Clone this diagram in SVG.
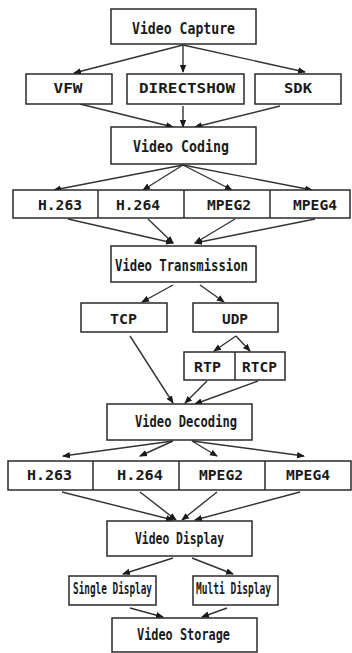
<svg xmlns="http://www.w3.org/2000/svg" width="352" height="653" viewBox="0 0 352 653">
<style>
.b{fill:#fff;stroke:#2a2a2a;stroke-width:1.5}
.d{stroke:#2a2a2a;stroke-width:1.5}
.t{font-family:"DejaVu Sans Mono","Liberation Mono",monospace;font-weight:bold;fill:#1a1a1a;text-anchor:middle}
.s{font-size:15px}
.m{font-size:14.5px}
.c line{stroke:#333;stroke-width:1.4;fill:none;marker-end:url(#a)}
</style>
<defs>
<marker id="a" markerUnits="userSpaceOnUse" markerWidth="8" markerHeight="8" viewBox="0 0 8 8" refX="7" refY="4" orient="auto">
<path d="M0,0.8 L8,4 L0,7.2 Z" fill="#1a1a1a"/>
</marker>
</defs>
<rect width="352" height="653" fill="#fff"/>
<g id="connectors" class="c">
<line x1="183" y1="45" x2="74" y2="73"/>
<line x1="183" y1="45" x2="183" y2="72"/>
<line x1="183" y1="45" x2="305" y2="72"/>
<line x1="80" y1="104" x2="173" y2="127"/>
<line x1="183" y1="106" x2="183" y2="127"/>
<line x1="280" y1="106" x2="195" y2="127"/>
<line x1="183" y1="165" x2="54" y2="190"/>
<line x1="183" y1="165" x2="143" y2="190"/>
<line x1="183" y1="165" x2="232" y2="190"/>
<line x1="183" y1="165" x2="312" y2="190"/>
<line x1="68" y1="219" x2="173" y2="243"/>
<line x1="148" y1="219" x2="173" y2="243"/>
<line x1="235" y1="219" x2="195" y2="243"/>
<line x1="315" y1="219" x2="195" y2="243"/>
<line x1="173" y1="285" x2="142" y2="302"/>
<line x1="200" y1="285" x2="224" y2="302"/>
<line x1="236" y1="336" x2="214" y2="351"/>
<line x1="236" y1="336" x2="250" y2="351"/>
<line x1="130" y1="336" x2="173" y2="403"/>
<line x1="207" y1="381" x2="185" y2="403"/>
<line x1="258" y1="381" x2="195" y2="404"/>
<line x1="173" y1="441" x2="63" y2="456"/>
<line x1="173" y1="441" x2="140" y2="456"/>
<line x1="192" y1="441" x2="217" y2="456"/>
<line x1="192" y1="441" x2="304" y2="456"/>
<line x1="62" y1="492" x2="173" y2="520"/>
<line x1="140" y1="492" x2="176" y2="520"/>
<line x1="217" y1="492" x2="182" y2="520"/>
<line x1="300" y1="492" x2="195" y2="520"/>
<line x1="173" y1="558" x2="123" y2="574"/>
<line x1="192" y1="558" x2="233" y2="574"/>
<line x1="130" y1="608" x2="163" y2="617"/>
<line x1="227" y1="608" x2="202" y2="617"/>
</g>
<g id="video-capture"><rect class="b" x="111" y="9" width="145" height="35"/><text class="t s" x="183.5" y="34" textLength="103" lengthAdjust="spacingAndGlyphs">Video Capture</text></g>
<g id="vfw"><rect class="b" x="26" y="74" width="86" height="30"/><text class="t m" x="68" y="93" textLength="29" lengthAdjust="spacingAndGlyphs">VFW</text></g>
<g id="directshow"><rect class="b" x="127" y="74" width="117" height="30"/><text class="t m" x="187" y="93" textLength="96" lengthAdjust="spacingAndGlyphs">DIRECTSHOW</text></g>
<g id="sdk"><rect class="b" x="255" y="74" width="86" height="30"/><text class="t m" x="298" y="93" textLength="28" lengthAdjust="spacingAndGlyphs">SDK</text></g>
<g id="video-coding"><rect class="b" x="111" y="127" width="145" height="37"/><text class="t s" x="181" y="152" textLength="96" lengthAdjust="spacingAndGlyphs">Video Coding</text></g>
<g id="codec-row-1">
<rect class="b" x="13" y="190" width="337" height="28"/>
<line class="d" x1="98" y1="190" x2="98" y2="218"/>
<line class="d" x1="184" y1="190" x2="184" y2="218"/>
<line class="d" x1="270" y1="190" x2="270" y2="218"/>
<text class="t m" x="60" y="210" textLength="44" lengthAdjust="spacingAndGlyphs">H.263</text>
<text class="t m" x="138" y="210" textLength="44" lengthAdjust="spacingAndGlyphs">H.264</text>
<text class="t m" x="229" y="210" textLength="44" lengthAdjust="spacingAndGlyphs">MPEG2</text>
<text class="t m" x="315" y="210" textLength="44" lengthAdjust="spacingAndGlyphs">MPEG4</text>
</g>
<g id="video-transmission"><rect class="b" x="111" y="246" width="145" height="36"/><text class="t s" x="181.5" y="271" textLength="133" lengthAdjust="spacingAndGlyphs">Video Transmission</text></g>
<g id="tcp"><rect class="b" x="81" y="303" width="86" height="29"/><text class="t m" x="123.5" y="324" textLength="27" lengthAdjust="spacingAndGlyphs">TCP</text></g>
<g id="udp"><rect class="b" x="193" y="303" width="85" height="29"/><text class="t m" x="235" y="324" textLength="26" lengthAdjust="spacingAndGlyphs">UDP</text></g>
<g id="rtp-rtcp">
<rect class="b" x="184" y="352" width="101" height="28"/>
<line class="d" x1="235" y1="352" x2="235" y2="380"/>
<text class="t m" x="207.5" y="372" textLength="27" lengthAdjust="spacingAndGlyphs">RTP</text>
<text class="t m" x="259.5" y="372" textLength="35" lengthAdjust="spacingAndGlyphs">RTCP</text>
</g>
<g id="video-decoding"><rect class="b" x="107" y="404" width="145" height="36"/><text class="t s" x="186" y="427" textLength="102" lengthAdjust="spacingAndGlyphs">Video Decoding</text></g>
<g id="codec-row-2">
<rect class="b" x="8" y="461" width="343" height="29"/>
<line class="d" x1="93" y1="461" x2="93" y2="490"/>
<line class="d" x1="179" y1="461" x2="179" y2="490"/>
<line class="d" x1="265" y1="461" x2="265" y2="490"/>
<text class="t m" x="49.5" y="480" textLength="45" lengthAdjust="spacingAndGlyphs">H.263</text>
<text class="t m" x="140" y="480" textLength="46" lengthAdjust="spacingAndGlyphs">H.264</text>
<text class="t m" x="221" y="480" textLength="44" lengthAdjust="spacingAndGlyphs">MPEG2</text>
<text class="t m" x="308" y="480" textLength="44" lengthAdjust="spacingAndGlyphs">MPEG4</text>
</g>
<g id="video-display"><rect class="b" x="107" y="521" width="145" height="35"/><text class="t s" x="179.5" y="544" textLength="89" lengthAdjust="spacingAndGlyphs">Video Display</text></g>
<g id="single-display"><rect class="b" x="69" y="576" width="87" height="29"/><text class="t s" x="112.5" y="594" textLength="79" lengthAdjust="spacingAndGlyphs">Single Display</text></g>
<g id="multi-display"><rect class="b" x="193" y="576" width="85" height="29"/><text class="t s" x="233.5" y="594" textLength="75" lengthAdjust="spacingAndGlyphs">Multi Display</text></g>
<g id="video-storage"><rect class="b" x="112" y="618" width="145" height="34"/><text class="t s" x="183.5" y="640" textLength="93" lengthAdjust="spacingAndGlyphs">Video Storage</text></g>
</svg>
